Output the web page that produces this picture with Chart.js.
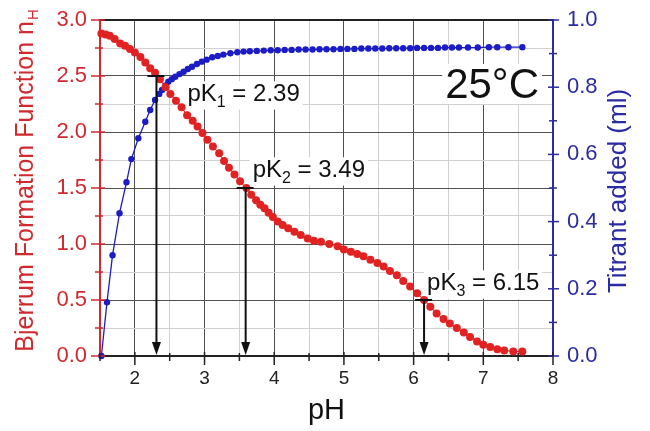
<!DOCTYPE html>
<html>
<head>
<meta charset="utf-8">
<title>Bjerrum formation function and titration curve, 25°C</title>
<script src="https://cdn.jsdelivr.net/npm/chart.js@4.4.0/dist/chart.umd.min.js"></script>
<style>
    html, body { margin: 0; padding: 0; background: #ffffff; }
    #wrap { width: 650px; height: 431px; }
</style>
</head>
<body>
<div id="wrap"><canvas id="bjerrumChart" width="650" height="431"></canvas></div>
<script>
// Bjerrum formation function nH (red, left axis) against pH
var nhPH = [1.52, 1.58, 1.64, 1.71, 1.79, 1.86, 1.93, 2.00, 2.08, 2.15, 2.22, 2.29, 2.36, 2.44, 2.51,
    2.59, 2.67, 2.75, 2.83, 2.90, 2.97, 3.04, 3.12, 3.21, 3.28, 3.35, 3.43, 3.51, 3.60, 3.67,
    3.74, 3.80, 3.86, 3.92, 3.98, 4.05, 4.12, 4.20, 4.29, 4.38, 4.48, 4.57, 4.67, 4.79, 4.91,
    5.00, 5.10, 5.19, 5.28, 5.38, 5.48, 5.57, 5.66, 5.76, 5.85, 5.95, 6.05, 6.15, 6.24, 6.33,
    6.43, 6.52, 6.62, 6.72, 6.81, 6.91, 7.00, 7.10, 7.20, 7.30, 7.43, 7.56];
var nhValues = [2.88, 2.87, 2.86, 2.83, 2.79, 2.77, 2.74, 2.71, 2.67, 2.62, 2.57, 2.53, 2.47, 2.40, 2.34,
    2.28, 2.22, 2.15, 2.10, 2.05, 1.99, 1.93, 1.87, 1.81, 1.74, 1.68, 1.62, 1.56, 1.50, 1.44,
    1.39, 1.35, 1.32, 1.28, 1.24, 1.20, 1.17, 1.14, 1.11, 1.08, 1.05, 1.03, 1.02, 1.00, 0.98,
    0.95, 0.93, 0.91, 0.89, 0.86, 0.83, 0.80, 0.76, 0.72, 0.67, 0.62, 0.56, 0.50, 0.44, 0.38,
    0.33, 0.29, 0.25, 0.21, 0.17, 0.13, 0.10, 0.08, 0.06, 0.05, 0.04, 0.04];

// Titrant added in ml (blue, right axis) against pH
var titrantPH = [1.52, 1.60, 1.68, 1.78, 1.88, 1.95, 2.05, 2.15, 2.22, 2.29, 2.35, 2.39, 2.44, 2.48, 2.53,
    2.58, 2.64, 2.70, 2.76, 2.82, 2.89, 2.96, 3.03, 3.11, 3.19, 3.27, 3.37, 3.47, 3.56, 3.65,
    3.75, 3.85, 3.95, 4.05, 4.15, 4.25, 4.35, 4.45, 4.55, 4.65, 4.75, 4.85, 4.95, 5.05, 5.15,
    5.25, 5.35, 5.45, 5.55, 5.65, 5.75, 5.85, 5.95, 6.05, 6.15, 6.25, 6.35, 6.45, 6.55, 6.65,
    6.78, 6.92, 7.08, 7.20, 7.36, 7.56];
var titrantValues = [0.00, 0.16, 0.30, 0.425, 0.517, 0.586, 0.648, 0.697, 0.732, 0.762, 0.780, 0.792, 0.805, 0.816, 0.824,
    0.831, 0.839, 0.846, 0.854, 0.861, 0.869, 0.876, 0.882, 0.889, 0.893, 0.897, 0.901, 0.904, 0.906, 0.907,
    0.908, 0.909, 0.910, 0.910, 0.911, 0.911, 0.912, 0.912, 0.912, 0.913, 0.913, 0.913, 0.914, 0.914, 0.914,
    0.915, 0.915, 0.915, 0.915, 0.916, 0.916, 0.916, 0.916, 0.917, 0.917, 0.917, 0.917, 0.918, 0.918, 0.918,
    0.918, 0.918, 0.919, 0.919, 0.919, 0.919];

// Tick labels
var xTickValues = [2, 3, 4, 5, 6, 7, 8];
var xTickLabels = ['2', '3', '4', '5', '6', '7', '8'];
var leftTickValues = [0, 0.5, 1.0, 1.5, 2.0, 2.5, 3.0];
var leftTickLabels = ['0.0', '0.5', '1.0', '1.5', '2.0', '2.5', '3.0'];
var rightTickValues = [0, 0.2, 0.4, 0.6, 0.8, 1.0];
var rightTickLabels = ['0.0', '0.2', '0.4', '0.6', '0.8', '1.0'];

// pK markers: arrow position (pH), nH level, subscript and value text
var pkArrowPH = [2.31, 3.59, 6.15];
var pkLevel = [2.5, 1.5, 0.5];
var pkIndex = ['1', '2', '3'];
var pkText = [' = 2.39', ' = 3.49', ' = 6.15'];
var pkLabelOffset = [[31, 25], [7, -11], [3, -10]];

var RED = '#e02222';
var RED_TEXT = '#cf2a2e';
var BLUE = '#1c1cc4';
var BLUE_TEXT = '#2b2ba3';
var FONT = '"Liberation Sans", Arial, Helvetica, sans-serif';

function labelFor(values, labels, v) {
    for (var i = 0; i < values.length; i++) {
        if (Math.abs(values[i] - v) < 1e-6) return labels[i];
    }
    return '';
}

function isMajor(values, v) {
    return labelFor(values, values.map(String), v) !== '';
}

function toPoints(xs, ys) {
    return xs.map(function(x, i) { return { x: x, y: ys[i] }; });
}

// white box + text with a subscript, drawn before the datasets so it hides the grid
function drawSubLabel(ctx, left, baseline, main, sub, rest, size) {
    ctx.font = size + 'px ' + FONT;
    var w1 = ctx.measureText(main).width;
    var w3 = ctx.measureText(rest).width;
    ctx.font = Math.round(size * 0.65) + 'px ' + FONT;
    var w2 = ctx.measureText(sub).width;
    ctx.fillStyle = '#ffffff';
    ctx.fillRect(left - 3, baseline - size * 0.82, w1 + w2 + w3 + 6, size * 1.18);
    ctx.fillStyle = '#111111';
    ctx.textBaseline = 'alphabetic';
    ctx.textAlign = 'left';
    ctx.font = size + 'px ' + FONT;
    ctx.fillText(main, left, baseline);
    ctx.font = Math.round(size * 0.65) + 'px ' + FONT;
    ctx.fillText(sub, left + w1, baseline + size * 0.25);
    ctx.font = size + 'px ' + FONT;
    ctx.fillText(rest, left + w1 + w2, baseline);
}

var labelPlugin = {
    id: 'pkLabels',
    beforeDatasetsDraw: function(chart) {
        var ctx = chart.ctx;
        var area = chart.chartArea;
        var xs = chart.scales.x, ys = chart.scales.y;
        ctx.save();
        for (var i = 0; i < pkArrowPH.length; i++) {
            var ax = xs.getPixelForValue(pkArrowPH[i]);
            var ay = ys.getPixelForValue(pkLevel[i]);
            drawSubLabel(ctx, ax + pkLabelOffset[i][0], ay + pkLabelOffset[i][1], 'pK', pkIndex[i], pkText[i], 24);
        }
        // temperature label
        ctx.font = '42px ' + FONT;
        var t = '25°C';
        var tw = ctx.measureText(t).width;
        var tx = area.right - 14 - tw;
        ctx.fillStyle = '#ffffff';
        ctx.fillRect(tx - 3, 64, tw + 6, 40);
        ctx.fillStyle = '#111111';
        ctx.textAlign = 'left';
        ctx.textBaseline = 'alphabetic';
        ctx.fillText(t, tx, 98);
        ctx.restore();
    }
};

var overlayPlugin = {
    id: 'overlay',
    afterDraw: function(chart) {
        var ctx = chart.ctx;
        var area = chart.chartArea;
        var xs = chart.scales.x, ys = chart.scales.y, y2 = chart.scales.y2;
        ctx.save();

        // top frame line
        ctx.strokeStyle = '#222222';
        ctx.lineWidth = 2;
        ctx.beginPath();
        ctx.moveTo(area.left, area.top);
        ctx.lineTo(area.right, area.top);
        ctx.stroke();

        // tick marks crossing the axes
        ctx.lineWidth = 1.5;
        ctx.strokeStyle = RED_TEXT;
        ys.ticks.forEach(function(t) {
            var p = ys.getPixelForValue(t.value);
            var major = isMajor(leftTickValues, t.value);
            ctx.beginPath();
            ctx.moveTo(area.left - (major ? 9 : 5), p);
            ctx.lineTo(area.left + (major ? 5 : 3), p);
            ctx.stroke();
        });
        ctx.strokeStyle = BLUE_TEXT;
        y2.ticks.forEach(function(t) {
            var p = y2.getPixelForValue(t.value);
            var major = isMajor(rightTickValues, t.value);
            ctx.beginPath();
            ctx.moveTo(area.right - (major ? 5 : 4), p);
            ctx.lineTo(area.right + (major ? 6 : 4), p);
            ctx.stroke();
        });
        ctx.strokeStyle = '#222222';
        xs.ticks.forEach(function(t) {
            var p = xs.getPixelForValue(t.value);
            var major = isMajor(xTickValues, t.value);
            ctx.beginPath();
            ctx.moveTo(p, area.bottom - (major ? 4 : 3));
            ctx.lineTo(p, area.bottom + (major ? 9 : 5));
            ctx.stroke();
        });

        // pK arrows
        ctx.strokeStyle = '#111111';
        ctx.fillStyle = '#111111';
        for (var i = 0; i < pkArrowPH.length; i++) {
            var ax = xs.getPixelForValue(pkArrowPH[i]);
            var ay = ys.getPixelForValue(pkLevel[i]);
            ctx.lineWidth = 2;
            ctx.beginPath();
            ctx.moveTo(ax - 9, ay);
            ctx.lineTo(ax + 8, ay);
            ctx.moveTo(ax, ay);
            ctx.lineTo(ax, area.bottom - 12);
            ctx.stroke();
            ctx.beginPath();
            ctx.moveTo(ax - 4.5, area.bottom - 14);
            ctx.lineTo(ax + 4.5, area.bottom - 14);
            ctx.lineTo(ax, area.bottom - 1);
            ctx.closePath();
            ctx.fill();
        }

        // left axis title with subscript H
        ctx.save();
        ctx.translate(24, 181);
        ctx.rotate(-Math.PI / 2);
        var mainTitle = 'Bjerrum Formation Function n';
        ctx.font = '25px ' + FONT;
        var w1 = ctx.measureText(mainTitle).width;
        ctx.font = '15px ' + FONT;
        var w2 = ctx.measureText('H').width;
        var start = -(w1 + w2) / 2;
        ctx.fillStyle = RED_TEXT;
        ctx.textBaseline = 'alphabetic';
        ctx.textAlign = 'left';
        ctx.font = '25px ' + FONT;
        ctx.fillText(mainTitle, start, 9);
        ctx.font = '15px ' + FONT;
        ctx.fillText('H', start + w1 + 1, 14);
        ctx.restore();

        // right axis title
        ctx.save();
        ctx.translate(619, 191);
        ctx.rotate(-Math.PI / 2);
        ctx.font = '26px ' + FONT;
        ctx.fillStyle = BLUE_TEXT;
        ctx.textAlign = 'center';
        ctx.textBaseline = 'middle';
        ctx.fillText('Titrant added (ml)', 0, 0);
        ctx.restore();

        // x axis title
        ctx.font = '29px ' + FONT;
        ctx.fillStyle = '#111111';
        ctx.textAlign = 'center';
        ctx.textBaseline = 'alphabetic';
        ctx.fillText('pH', (area.left + area.right) / 2, 419);

        ctx.restore();
    }
};

function gridColor(values) {
    return function(c) {
        if (!c.tick) return 'rgba(0,0,0,0)';
        return isMajor(values, c.tick.value) ? '#505050' : '#d0d0d0';
    };
}

// fixed box sizes so the plot area sits where it does in the original figure
function fixWidth(w) {
    return function(scale) {
        scale.width = w;
        scale.paddingTop = 0;
        scale.paddingBottom = 0;
    };
}

var ctx = document.getElementById('bjerrumChart').getContext('2d');
var chart = new Chart(ctx, {
    type: 'scatter',
    data: {
        datasets: [{
            label: 'Bjerrum Formation Function',
            data: toPoints(nhPH, nhValues),
            yAxisID: 'y',
            showLine: true,
            borderColor: RED,
            backgroundColor: RED,
            borderWidth: 1,
            pointRadius: 4,
            pointBorderWidth: 0,
            clip: false
        }, {
            label: 'Titrant added',
            data: toPoints(titrantPH, titrantValues),
            yAxisID: 'y2',
            showLine: true,
            borderColor: BLUE,
            backgroundColor: BLUE,
            borderWidth: 1.3,
            pointRadius: 3.2,
            pointBorderWidth: 0,
            clip: false
        }]
    },
    options: {
        responsive: false,
        animation: false,
        events: [],
        layout: { padding: { top: 20, left: 0, right: 0, bottom: 0 } },
        plugins: {
            legend: { display: false },
            tooltip: { enabled: false }
        },
        scales: {
            x: {
                type: 'linear',
                position: 'bottom',
                min: 1.5,
                max: 8,
                afterFit: function(scale) {
                    scale.height = 75;
                    scale.paddingLeft = 0;
                    scale.paddingRight = 0;
                },
                ticks: {
                    stepSize: 0.5,
                    autoSkip: false,
                    maxRotation: 0,
                    padding: 11,
                    color: '#222222',
                    font: { size: 19, family: FONT },
                    callback: function(v) { return labelFor(xTickValues, xTickLabels, v); }
                },
                grid: { color: gridColor(xTickValues), lineWidth: 1, drawTicks: false },
                border: { color: '#222222', width: 2 }
            },
            y: {
                type: 'linear',
                position: 'left',
                min: 0,
                max: 3,
                afterFit: fixWidth(100),
                ticks: {
                    stepSize: 0.25,
                    autoSkip: false,
                    padding: 13,
                    color: RED_TEXT,
                    font: { size: 22, family: FONT },
                    callback: function(v) { return labelFor(leftTickValues, leftTickLabels, v); }
                },
                grid: { color: gridColor(leftTickValues), lineWidth: 1, drawTicks: false },
                border: { color: RED_TEXT, width: 2 }
            },
            y2: {
                type: 'linear',
                position: 'right',
                min: 0,
                max: 1,
                afterFit: fixWidth(97),
                ticks: {
                    stepSize: 0.1,
                    autoSkip: false,
                    padding: 14,
                    color: BLUE_TEXT,
                    font: { size: 22, family: FONT },
                    callback: function(v) { return labelFor(rightTickValues, rightTickLabels, v); }
                },
                grid: { drawOnChartArea: false, drawTicks: false },
                border: { color: BLUE_TEXT, width: 2 }
            }
        }
    },
    plugins: [labelPlugin, overlayPlugin]
});
</script>
</body>
</html>
